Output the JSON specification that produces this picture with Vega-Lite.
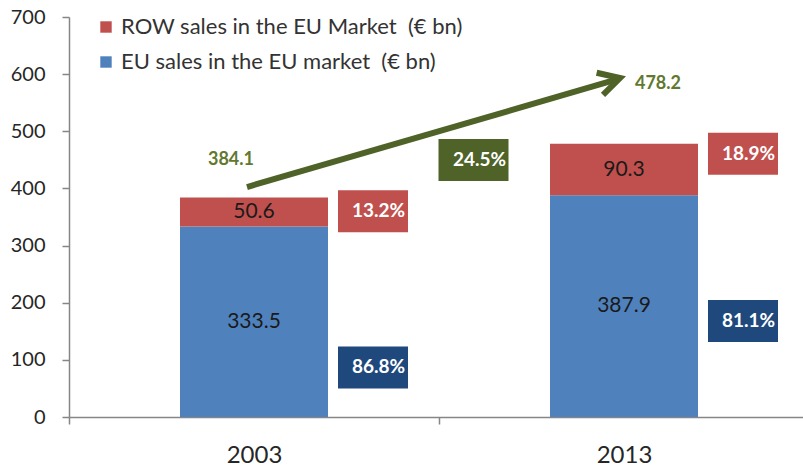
{
  "$schema": "https://vega.github.io/schema/vega-lite/v6.json",
  "width": 734,
  "height": 400,
  "autosize": {"type": "none"},
  "padding": {"left": 69, "top": 17, "right": 0, "bottom": 54},
  "background": "white",
  "config": {
    "view": {"stroke": null},
    "font": "Lato",
    "axis": {"domainColor": "#868686", "tickColor": "#868686", "labelColor": "#262626", "labelFont": "Lato", "grid": false, "domainWidth": 1.5, "tickWidth": 1.5}
  },
  "datasets": {
    "sales": [
      {"year": "2003", "series": "EU sales in the EU market  (€ bn)", "value": 333.5},
      {"year": "2003", "series": "ROW sales in the EU Market  (€ bn)", "value": 50.6},
      {"year": "2013", "series": "EU sales in the EU market  (€ bn)", "value": 387.9},
      {"year": "2013", "series": "ROW sales in the EU Market  (€ bn)", "value": 90.3}
    ],
    "shares": [
      {"year": "2003", "series": "ROW sales in the EU Market  (€ bn)", "share": "13.2%", "labelAt": 360},
      {"year": "2003", "series": "EU sales in the EU market  (€ bn)", "share": "86.8%", "labelAt": 86.7},
      {"year": "2013", "series": "ROW sales in the EU Market  (€ bn)", "share": "18.9%", "labelAt": 460.7},
      {"year": "2013", "series": "EU sales in the EU market  (€ bn)", "share": "81.1%", "labelAt": 167.8}
    ],
    "growth": [
      {"from": "2003", "to": "2013", "start": 384.1, "end": 478.2, "growth": "24.5%"}
    ]
  },
  "layer": [
    {
      "data": {"name": "sales"},
      "mark": {"type": "bar", "width": {"band": 0.4}},
      "encoding": {
        "x": {
          "field": "year", "type": "nominal",
          "scale": {"range": [0, 740], "paddingInner": 0, "paddingOuter": 0},
          "axis": {"title": null, "tickBand": "extent", "tickSize": 7, "labelFontSize": 24, "labelPadding": 19, "labelAngle": 0}
        },
        "y": {
          "field": "value", "type": "quantitative", "stack": "zero",
          "scale": {"domain": [0, 700], "nice": false},
          "axis": {"title": null, "values": [0, 100, 200, 300, 400, 500, 600, 700], "tickSize": 7, "labelFontSize": 20, "labelPadding": 17}
        },
        "color": {
          "field": "series", "type": "nominal",
          "scale": {"domain": ["ROW sales in the EU Market  (€ bn)", "EU sales in the EU market  (€ bn)"], "range": ["#C0504D", "#4F81BD"]},
          "legend": {"orient": "none", "legendX": 26, "legendY": -1, "direction": "vertical", "title": null, "padding": 0, "symbolType": "square", "symbolSize": 130, "symbolStrokeWidth": 0, "symbolOpacity": 1, "labelFontSize": 22, "labelFont": "Lato", "labelColor": "#333333", "rowPadding": 13, "labelOffset": 4, "labelLimit": 0, "labelExpr": "replace(datum.label, '  ', '\u00a0 ')"}
        },
        "order": {"field": "series", "type": "nominal", "sort": "ascending"}
      }
    },
    {
      "data": {"name": "sales"},
      "transform": [
        {"stack": "value", "groupby": ["year"], "sort": [{"field": "series", "order": "ascending"}], "as": ["v0", "v1"]},
        {"fold": ["v0", "v1"], "as": ["edge", "edgeVal"]}
      ],
      "mark": {"type": "text", "fontSize": 21, "color": "#1a1a1a", "baseline": "middle", "align": "center"},
      "encoding": {
        "x": {"field": "year", "type": "nominal"},
        "y": {"field": "edgeVal", "aggregate": "mean", "type": "quantitative"},
        "text": {"field": "value", "type": "quantitative", "format": ".1f"},
        "detail": {"field": "series", "type": "nominal"}
      }
    },
    {
      "data": {"name": "shares"},
      "mark": {"type": "point", "shape": "M-1,-0.6H1V0.6H-1Z", "size": 4900, "filled": true, "opacity": 1, "strokeWidth": 0, "xOffset": 119},
      "encoding": {
        "x": {"field": "year", "type": "nominal"},
        "y": {"field": "labelAt", "type": "quantitative"},
        "fill": {"field": "series", "type": "nominal", "scale": {"domain": ["ROW sales in the EU Market  (€ bn)", "EU sales in the EU market  (€ bn)"], "range": ["#C0504D", "#1F497D"]}, "legend": null}
      }
    },
    {
      "data": {"name": "shares"},
      "mark": {"type": "text", "align": "left", "baseline": "middle", "dx": 98, "fontSize": 19, "fontWeight": "bold", "color": "white"},
      "encoding": {
        "x": {"field": "year", "type": "nominal"},
        "y": {"field": "labelAt", "type": "quantitative"},
        "text": {"field": "share", "type": "nominal"}
      }
    },
    {
      "data": {"name": "growth"},
      "mark": {"type": "rule", "strokeWidth": 6, "color": "#4F6228", "xOffset": -7, "x2Offset": -8, "yOffset": -10.5, "y2Offset": -64},
      "encoding": {
        "x": {"field": "from", "type": "nominal"},
        "x2": {"field": "to"},
        "y": {"field": "start", "type": "quantitative"},
        "y2": {"field": "end"}
      }
    },
    {
      "data": {"name": "growth"},
      "mark": {"type": "point", "shape": "M-1,-0.55L0,0L-1,0.55", "size": 1764, "filled": false, "opacity": 1, "stroke": "#4F6228", "strokeWidth": 6, "angle": -16, "xOffset": -4, "yOffset": -65.7},
      "encoding": {
        "x": {"field": "to", "type": "nominal"},
        "y": {"field": "end", "type": "quantitative"}
      }
    },
    {
      "data": {"name": "growth"},
      "mark": {"type": "text", "fontSize": 18, "fontWeight": "bold", "color": "#62782F", "align": "center", "baseline": "middle", "dx": -23, "dy": -37.5},
      "encoding": {
        "x": {"field": "from", "type": "nominal"},
        "y": {"field": "start", "type": "quantitative"},
        "text": {"field": "start", "type": "quantitative", "format": ".1f"}
      }
    },
    {
      "data": {"name": "growth"},
      "mark": {"type": "text", "fontSize": 18, "fontWeight": "bold", "color": "#62782F", "align": "center", "baseline": "middle", "dx": 34, "dy": -59.7},
      "encoding": {
        "x": {"field": "to", "type": "nominal"},
        "y": {"field": "end", "type": "quantitative"},
        "text": {"field": "end", "type": "quantitative", "format": ".1f"}
      }
    },
    {
      "data": {"name": "growth"},
      "mark": {"type": "point", "shape": "M-1,-0.6H1V0.6H-1Z", "size": 4900, "filled": true, "opacity": 1, "strokeWidth": 0, "color": "#4F6228", "xOffset": 219.5, "yOffset": -37.5},
      "encoding": {
        "x": {"field": "from", "type": "nominal"},
        "y": {"field": "start", "type": "quantitative"}
      }
    },
    {
      "data": {"name": "growth"},
      "mark": {"type": "text", "align": "left", "baseline": "middle", "dx": 199, "dy": -37.5, "fontSize": 19, "fontWeight": "bold", "color": "white"},
      "encoding": {
        "x": {"field": "from", "type": "nominal"},
        "y": {"field": "start", "type": "quantitative"},
        "text": {"field": "growth", "type": "nominal"}
      }
    }
  ]
}
